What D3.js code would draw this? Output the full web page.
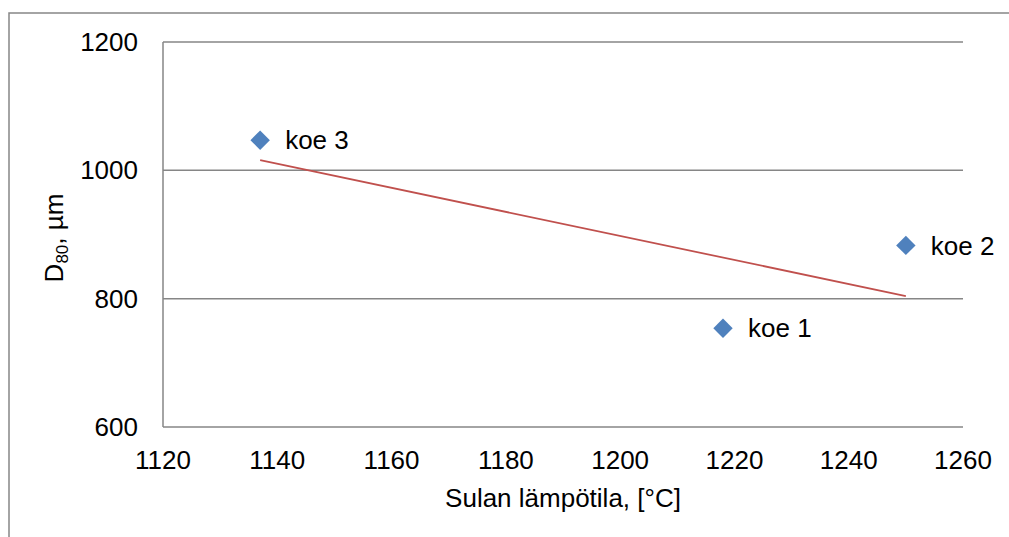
<!DOCTYPE html>
<html>
<head>
<meta charset="utf-8">
<script src="https://cdn.jsdelivr.net/npm/d3@7"></script>
<style>
    body { margin: 0; background: #fff; }
    text { font-family: "Liberation Sans", Arial, sans-serif; fill: #000; }
</style>
</head>
<body>
<svg id="chart" width="1009" height="537"></svg>
<script>
// Data
const labels = ['koe 1', 'koe 2', 'koe 3'];
const temps = [1218, 1250, 1137];
const d80 = [754, 883, 1047];
const xTicks = [1120, 1140, 1160, 1180, 1200, 1220, 1240, 1260];
const yTicks = [600, 800, 1000, 1200];

const points = labels.map((l, i) => ({ label: l, x: temps[i], y: d80[i] }));

const svg = d3.select('#chart');
const fontSize = 26;

// Plot area
const plot = { left: 163, right: 963, top: 42, bottom: 427 };

const x = d3.scaleLinear().domain([1120, 1260]).range([plot.left, plot.right]);
const y = d3.scaleLinear().domain([600, 1200]).range([plot.bottom, plot.top]);

// Outer chart border (clipped by the picture on right and bottom)
svg.append('rect')
    .attr('x', 9).attr('y', 13)
    .attr('width', 1020).attr('height', 560)
    .attr('fill', 'none')
    .attr('stroke', '#868686')
    .attr('stroke-width', 1.5);

// Gridlines
svg.append('g')
    .selectAll('line')
    .data(yTicks)
    .enter().append('line')
    .attr('x1', plot.left).attr('x2', plot.right)
    .attr('y1', d => y(d)).attr('y2', d => y(d))
    .attr('stroke', '#868686')
    .attr('stroke-width', 1.5);

// Left axis line
svg.append('line')
    .attr('x1', plot.left).attr('x2', plot.left)
    .attr('y1', plot.top).attr('y2', plot.bottom)
    .attr('stroke', '#868686')
    .attr('stroke-width', 1.5);

// Y tick labels
svg.append('g')
    .selectAll('text')
    .data(yTicks)
    .enter().append('text')
    .attr('x', plot.left - 25)
    .attr('y', d => y(d))
    .attr('dy', '0.35em')
    .attr('text-anchor', 'end')
    .style('font-size', fontSize + 'px')
    .text(d => d);

// X tick labels
svg.append('g')
    .selectAll('text')
    .data(xTicks)
    .enter().append('text')
    .attr('x', d => x(d))
    .attr('y', 469)
    .attr('text-anchor', 'middle')
    .style('font-size', fontSize + 'px')
    .text(d => d);

// Axis titles
svg.append('text')
    .attr('x', (plot.left + plot.right) / 2)
    .attr('y', 507)
    .attr('text-anchor', 'middle')
    .style('font-size', fontSize + 'px')
    .text('Sulan lämpötila, [°C]');

const yTitle = svg.append('text')
    .attr('transform', 'translate(63,238) rotate(-90)')
    .attr('text-anchor', 'middle')
    .style('font-size', fontSize + 'px');
yTitle.append('tspan').text('D');
yTitle.append('tspan').attr('dy', 5).style('font-size', '17px').text('80');
yTitle.append('tspan').attr('dy', -5).text(', µm');

// Linear trendline (least squares, as in the original spreadsheet)
const mx = d3.mean(temps), my = d3.mean(d80);
const slope = d3.sum(temps, (t, i) => (t - mx) * (d80[i] - my)) /
              d3.sum(temps, t => (t - mx) * (t - mx));
const icpt = my - slope * mx;
const [xmin, xmax] = d3.extent(temps);

svg.append('line')
    .attr('x1', x(xmin)).attr('y1', y(slope * xmin + icpt))
    .attr('x2', x(xmax)).attr('y2', y(slope * xmax + icpt))
    .attr('stroke', '#C0504D')
    .attr('stroke-width', 1.75);

// Markers
svg.append('g')
    .selectAll('path')
    .data(points)
    .enter().append('path')
    .attr('d', d3.symbol().type(d3.symbolDiamond2).size(240))
    .attr('transform', d => `translate(${x(d.x)},${y(d.y)})`)
    .attr('fill', '#4F81BD');

// Data labels
svg.append('g')
    .selectAll('text')
    .data(points)
    .enter().append('text')
    .attr('x', d => x(d.x) + 25)
    .attr('y', d => y(d.y))
    .attr('dy', '0.35em')
    .style('font-size', fontSize + 'px')
    .text(d => d.label);
</script>
</body>
</html>
